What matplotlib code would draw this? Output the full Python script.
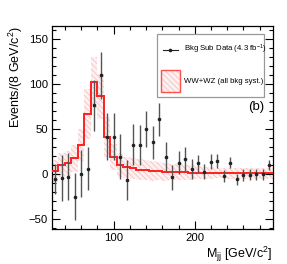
import numpy as np
import matplotlib
matplotlib.use("Agg")
import matplotlib.pyplot as plt
from matplotlib.lines import Line2D
from matplotlib.patches import Rectangle

plt.rcParams['font.family'] = ['Liberation Sans', 'DejaVu Sans']
plt.rcParams['hatch.linewidth'] = 0.5
plt.rcParams['mathtext.fontset'] = 'custom'
plt.rcParams['mathtext.rm'] = 'Liberation Sans'
plt.rcParams['mathtext.it'] = 'Liberation Sans:italic'

# Bin edges (8 GeV/c^2 bins)
bin_edges = np.arange(24, 297, 8)
bin_centers = bin_edges[:-1] + 4

# Background-subtracted data
data_vals = [-5.6, -4.5, -2.7, -25, 0.3, 6.2, 76.4, 110, 41.5, 41.5, 19.5, -6.3,
             32.6, 32.3, 49.7, 35.2, 60.8, 19.3, -3.7, 12.9, 16.7, 5.8, 11.8, 2.8,
             14.0, 14.8, -2.0, 12.9, -6.0, -1.0, -0.8, -0.4, -0.4, 10.0]
data_errs = [17, 26, 26, 26, 26, 24, 28, 26, 26, 26, 25, 22,
             23, 22, 20, 18.5, 18, 16, 14, 13, 13, 11, 10, 8.5,
             8, 8, 7, 6.5, 6.5, 6.5, 6, 6, 6, 5.5]

# WW+WZ expectation and its systematic uncertainty
mc_vals = [3.7, 10, 12.2, 17.8, 32.6, 66.8, 102, 86.4, 41.5, 19, 10, 7.5,
           6.3, 5.0, 4.5, 3.5, 3.0, 2.5, 2.2, 2.0, 1.8, 1.6, 1.5, 1.4,
           1.3, 1.2, 1.1, 1.0, 1.0, 1.0, 0.9, 0.9, 0.9, 0.9]
mc_errs = [12, 13, 14, 15, 18, 28, 28, 25, 22, 15, 13, 12,
           12, 12, 11, 11, 10, 10, 9, 9, 8, 8, 7, 7,
           7, 6, 6, 6, 6, 6, 6, 6, 6, 6]

legend_labels = ['Bkg Sub Data (4.3 fb$^{-1}$)', 'WW+WZ (all bkg syst.)']
x_ticks = [100, 200]
y_ticks = [-50, 0, 50, 100, 150]

fig = plt.figure(figsize=(2.87, 2.64), dpi=100)
ax = fig.add_axes([0.181, 0.133, 0.769, 0.769])

mc = np.array(mc_vals)
me = np.array(mc_errs)
lo = np.append(mc - me, (mc - me)[-1])
hi = np.append(mc + me, (mc + me)[-1])
band_col = '#f7b8b8'
band_fill = '#fdf0f0'
ax.fill_between(bin_edges, lo, hi, step='post', facecolor=band_fill,
                edgecolor=band_col, hatch='\\\\\\\\\\\\', linewidth=0, zorder=1)
ax.stairs(mc, bin_edges, baseline=None, color='#ff2020', lw=1.4, zorder=3)

ax.errorbar(bin_centers, data_vals, yerr=data_errs, fmt='o', color='#222222',
            ecolor='#555555', elinewidth=1.0, markersize=1.6, capsize=0, zorder=4)

ax.set_xlim(24, 296)
ax.set_ylim(-61, 165)
ax.set_xticks(x_ticks)
ax.set_yticks(y_ticks)
ax.set_xticks(np.arange(40, 296, 20), minor=True)
ax.set_yticks(np.arange(-60, 166, 10), minor=True)
ax.tick_params(which='both', direction='in', top=True, right=True, labelsize=8.2)
ax.tick_params(which='major', length=5.5, width=0.8, pad=3)
ax.tick_params(which='minor', length=2.8, width=0.8)
for s in ax.spines.values():
    s.set_linewidth(0.9)

ax.set_ylabel('Events/(8 GeV/c$^{2}$)', fontsize=9, loc='top', va='center')
ax.yaxis.set_label_coords(-0.165, 1.0)
ax.set_xlabel('M$_{\\mathrm{jj}}$ [GeV/c$^{2}$]', fontsize=9, loc='right')
ax.xaxis.set_label_coords(1.0, -0.08)

ax.text(0.961, 0.598, '(b)', transform=ax.transAxes, ha='right', va='center', fontsize=9.5)

# Legend (ROOT-style box)
T = ax.transAxes
ax.add_patch(Rectangle((0.476, 0.650), 0.485, 0.310, transform=T, facecolor='white',
                       edgecolor='#999999', lw=0.9, zorder=6))
ax.add_line(Line2D([0.503, 0.571], [0.882, 0.882], transform=T, color='#222222',
                   lw=0.8, zorder=7))
ax.add_line(Line2D([0.537], [0.882], transform=T, color='#222222', marker='o',
                   markersize=1.6, zorder=7))
ax.text(0.599, 0.882, legend_labels[0], transform=T, fontsize=5.6, va='center',
        ha='left', zorder=7)
ax.add_patch(Rectangle((0.494, 0.674), 0.086, 0.108, transform=T, facecolor=band_fill,
                       edgecolor=band_col, hatch='\\\\\\\\\\\\', lw=0, zorder=7))
ax.add_patch(Rectangle((0.494, 0.674), 0.086, 0.108, transform=T, facecolor='none',
                       edgecolor='#ff5050', lw=1.0, zorder=7))
ax.text(0.599, 0.728, legend_labels[1], transform=T, fontsize=5.6, va='center',
        ha='left', zorder=7)

fig.savefig('out.png', dpi=100)
